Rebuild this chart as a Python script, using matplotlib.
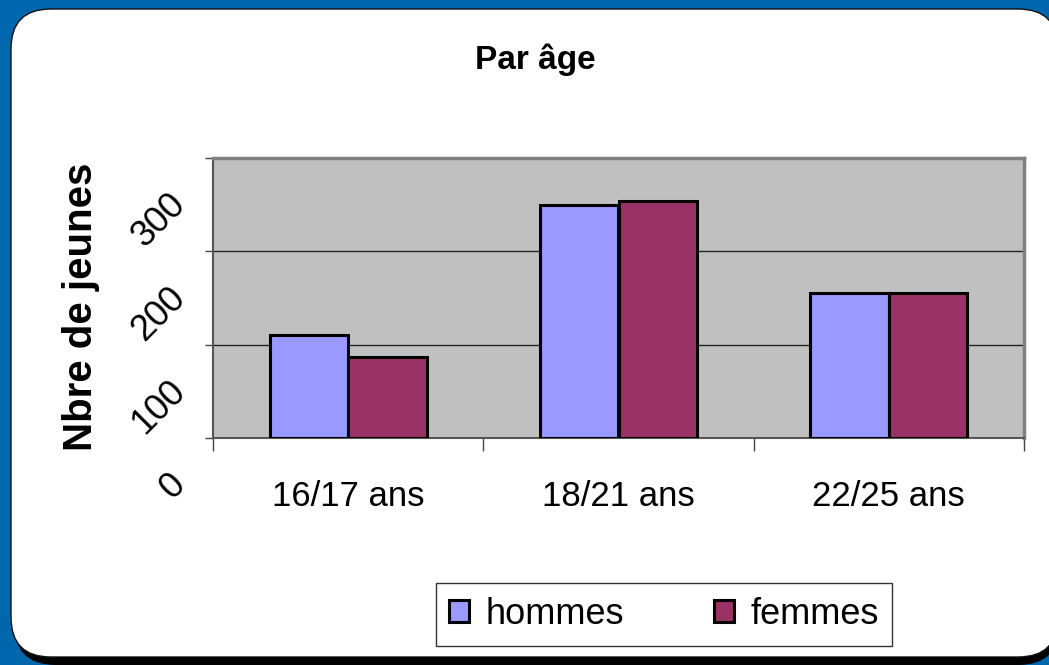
import matplotlib
matplotlib.use("Agg")
import matplotlib.pyplot as plt
from matplotlib.patches import FancyBboxPatch, Patch
from matplotlib.transforms import ScaledTranslation, blended_transform_factory
import numpy as np

categories = ["16/17 ans", "18/21 ans", "22/25 ans"]
hommes = [110, 250, 155]
femmes = [87, 254, 155]
series_names = ["hommes", "femmes"]
yticks = [0, 100, 200, 300]
ytick_labels = ["0", "100", "200", "300"]
title = "Par âge"
ylabel = "Nbre de jeunes"

SANS = ["Liberation Sans", "DejaVu Sans"]

W, H = 1049, 665
fig = plt.figure(figsize=(W / 100, H / 100), dpi=100)
fig.patch.set_facecolor("#0066AE")

def fx(px):
    return px / W

def fy(py):
    return 1 - py / H

# panel shadow + panel
shadow = FancyBboxPatch((fx(14), fy(665)), fx(1060) - fx(14), fy(17) - fy(665),
                        boxstyle="round,pad=0,rounding_size=0.04",
                        transform=fig.transFigure, facecolor="black", edgecolor="none",
                        mutation_aspect=W / H, zorder=0)
fig.patches.append(shadow)
panel = FancyBboxPatch((fx(11), fy(657)), fx(1058) - fx(11), fy(9) - fy(657),
                       boxstyle="round,pad=0,rounding_size=0.038",
                       transform=fig.transFigure, facecolor="white", edgecolor="#111111",
                       linewidth=1.0, mutation_aspect=W / H, zorder=1)
fig.patches.append(panel)

ax = fig.add_axes([fx(213), fy(438), fx(1024) - fx(213), fy(158) - fy(438)])
ax.set_zorder(2)
ax.set_facecolor("#C0C0C0")

x = np.arange(len(categories))
bw = 0.29
ax.bar(x - bw / 2, hommes, bw, color="#9999FF", edgecolor="black", linewidth=2.2, zorder=3)
ax.bar(x + bw / 2, femmes, bw, color="#993366", edgecolor="black", linewidth=2.2, zorder=3)

ax.set_xlim(-0.5, len(categories) - 0.5)
ax.set_ylim(0, 300)

# gridlines
for v in yticks[1:-1]:
    ax.axhline(v, color="#222222", linewidth=1.0, zorder=1)

for s in ["top", "right"]:
    ax.spines[s].set_color("#808080")
    ax.spines[s].set_linewidth(2.5)
ax.spines["left"].set_color("#555555")
ax.spines["left"].set_linewidth(1.5)
ax.spines["bottom"].set_color("#555555")
ax.spines["bottom"].set_linewidth(1.5)

ax.set_yticks(yticks)
ax.set_yticklabels([])
ax.tick_params(axis="y", direction="out", length=6, width=1, color="#444444")

# category ticks at boundaries, labels at centers
ax.set_xticks(x)
ax.set_xticklabels(categories, fontsize=25, family=SANS)
ax.tick_params(axis="x", which="major", length=0, pad=30)
ax.set_xticks(np.arange(len(categories) + 1) - 0.5, minor=True)
ax.tick_params(axis="x", which="minor", direction="out", length=9, width=1, color="#444444")

# rotated y tick labels shifted downwards
tr = blended_transform_factory(ax.transAxes, ax.transData) + \
    ScaledTranslation(-33 / 100, -41 / 100, fig.dpi_scale_trans)
for v, lab in zip(yticks, ytick_labels):
    ax.text(0, v, lab, transform=tr, rotation=45, rotation_mode="anchor",
            ha="right", va="center", fontsize=26, family=SANS, clip_on=False)

ax.set_ylabel(ylabel, fontsize=29, fontweight="bold", family=SANS)
ax.yaxis.set_label_coords(-0.139, 0.468)

fig.text(fx(535), fy(60), title, ha="center", va="center", fontsize=24,
         fontweight="bold", family=SANS, zorder=5)

handles = [Patch(facecolor="#9999FF", edgecolor="black", linewidth=2.2),
           Patch(facecolor="#993366", edgecolor="black", linewidth=2.2)]
leg = fig.legend(handles, series_names, loc="center", bbox_to_anchor=(fx(664), fy(614.5)),
                 ncol=2, prop={"family": SANS, "size": 26}, frameon=True, fancybox=False,
                 handlelength=0.55, handleheight=0.55, handletextpad=0.45, columnspacing=2.5,
                 borderpad=0.38, borderaxespad=0)
leg.get_frame().set_edgecolor("black")
leg.get_frame().set_linewidth(1.0)
leg.set_zorder(5)

fig.savefig("out.png", dpi=100, facecolor=fig.get_facecolor())
